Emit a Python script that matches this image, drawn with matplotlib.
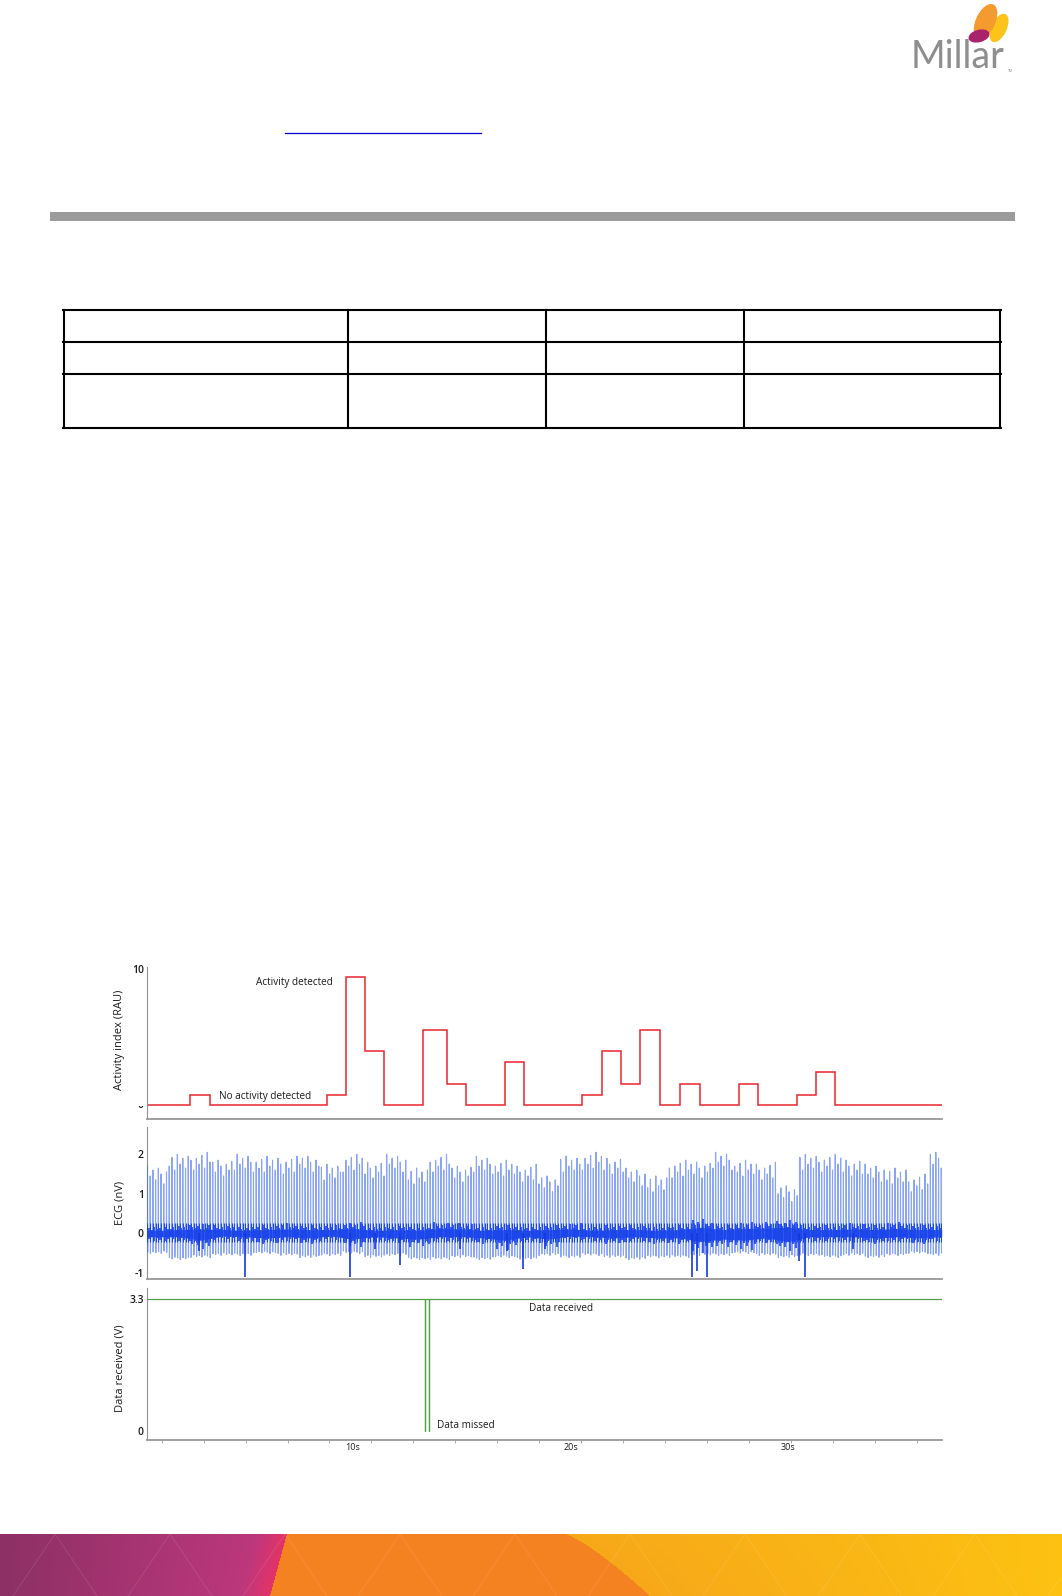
import numpy as np
import matplotlib
matplotlib.use("Agg")
import matplotlib.pyplot as plt
from matplotlib.patches import Ellipse
from matplotlib.transforms import Bbox, blended_transform_factory

plt.rcParams['font.family'] = ['Open Sans', 'DejaVu Sans']

# ---- data ----
# activity index (RAU): step levels between block edges (s)
act_edges = [0.5, 2.51, 3.43, 8.79, 9.66, 10.55, 11.44, 13.23, 14.31, 15.20, 16.99, 17.88,
             20.54, 21.43, 22.32, 23.21, 24.10, 25.02, 25.97, 27.73, 28.62, 30.40, 31.29,
             32.17, 37.07]
act_levels = [0, 0.75, 0, 0.75, 9.45, 4.0, 0, 5.55, 1.55, 0, 3.15, 0,
              0.75, 4.0, 1.55, 5.55, 0, 1.55, 0, 1.55, 0, 0.75, 2.4, 0]

# ECG (nV): envelope per 1 s bin starting at 0.5 s
ecg_peak = [1.7, 2.0, 2.05, 1.9, 2.0, 1.95, 1.95, 2.0, 1.75, 2.0, 1.85, 2.0, 1.65, 2.0,
            1.75, 1.95, 1.85, 1.75, 1.5, 1.95, 2.05, 1.95, 1.65, 1.45, 1.85, 1.85, 2.05,
            1.85, 1.8, 1.25, 2.0, 2.0, 1.9, 1.75, 1.65, 1.5, 2.1]
ecg_trough = [-0.45, -0.6, -0.55, -0.5, -0.5, -0.45, -0.5, -0.55, -0.5, -0.45, -0.55, -0.5,
              -0.6, -0.6, -0.55, -0.6, -0.55, -0.6, -0.5, -0.55, -0.5, -0.55, -0.6, -0.55,
              -0.55, -0.5, -0.5, -0.45, -0.5, -0.55, -0.5, -0.55, -0.5, -0.55, -0.5, -0.45, -0.5]
band_hi = [0.12, 0.15, 0.18, 0.15, 0.12, 0.15, 0.18, 0.15, 0.15, 0.2, 0.12, 0.15, 0.12, 0.2,
           0.18, 0.12, 0.15, 0.12, 0.15, 0.18, 0.12, 0.15, 0.15, 0.12, 0.15, 0.25, 0.15, 0.2,
           0.22, 0.25, 0.15, 0.15, 0.18, 0.15, 0.2, 0.15, 0.15]
band_lo = [-0.15, -0.15, -0.3, -0.12, -0.15, -0.2, -0.15, -0.2, -0.12, -0.25, -0.15, -0.2,
           -0.25, -0.15, -0.15, -0.2, -0.3, -0.15, -0.25, -0.12, -0.15, -0.2, -0.15, -0.2,
           -0.2, -0.35, -0.25, -0.3, -0.2, -0.35, -0.15, -0.15, -0.15, -0.2, -0.15, -0.2, -0.15]
beat_var = [0, -0.25, -0.1, -0.35, -0.05, -0.2, -0.45, -0.15, -0.3, -0.08, -0.4]
band_var = [1.0, 0.6, 1.3, 0.8, 1.1, 0.5, 1.4, 0.9, 0.7]
ecg_rr = 0.125
art_t = [2.9, 5.03, 9.86, 11.0, 12.16, 14.9, 17.06, 17.8, 18.83, 25.57, 25.8, 26.3, 30.5, 30.8, 33.0]
art_d = [-0.45, -1.1, -1.1, -0.4, -0.8, -0.4, -0.45, -0.9, -0.4, -1.1, -0.95, -1.1, -0.7, -1.1, -0.4]

# data received (V)
rx_edges = [0.5, 13.31, 13.33, 13.49, 13.51, 37.07]
rx_levels = [3.3, 0, 3.3, 0, 3.3]

t_ticks = [10, 20, 30]
t_labels = ['10s', '20s', '30s']

W, H = 1062, 1596
fig = plt.figure(figsize=(W / 100, H / 100), dpi=100)

# page decoration in pixel coordinates
bg = fig.add_axes([0, 0, 1, 1])
bg.set_xlim(0, W)
bg.set_ylim(H, 0)
bg.axis('off')

# logo
bg.add_patch(Ellipse((999, 28), 14, 29, angle=24.8, color='#fcc419'))
bg.add_patch(Ellipse((985.5, 21.5), 18, 36, angle=24.6, color='#f49a2e'))
bg.add_patch(Ellipse((979, 36), 20, 11, angle=-15, color='#a9226c'))
bg.text(911, 68, 'Millar', fontsize=27, color='#8e8e8e', fontweight='normal',
        family=['Lato', 'DejaVu Sans'], va='baseline', ha='left')
bg.text(1008, 72, 'TM', fontsize=2.5, color='#8c8c8c', va='baseline')

# link underline and header bar
bg.plot([285, 481], [133, 133], color='#0000cc', lw=0.9)
bg.fill_between([50, 1015], 212, 221, color='#9b9b9b', lw=0)

# empty table grid
tl, tr = 64, 1000
rows = [309.5, 342, 373.7, 427.6]
cols = [64, 348.2, 545.8, 744.3, 1000]
for r in rows:
    bg.plot([tl - 1, tr + 1], [r, r], color='black', lw=1.5)
for c in cols:
    bg.plot([c, c], [rows[0], rows[-1]], color='black', lw=1.5)

# bottom banner
bh = 62
yy, xx = np.mgrid[0:bh, 0:W] + 0.5
f = yy / bh
b1 = 287 - 17 * f
b2 = 565 + 85 * f ** 0.8
mag_l = np.array([0.55, 0.19, 0.40])
mag_r = np.array([0.76, 0.22, 0.50])
fr = np.clip(xx / b1, 0, 1)[..., None]
mag = mag_l * (1 - fr) + mag_r * fr
edge = np.clip((xx - (b1 - 30)) / 30, 0, 1)[..., None]
mag = mag * (1 - edge) + np.array([0.89, 0.20, 0.40]) * edge
org = np.array([0.96, 0.51, 0.13])
fy = np.clip((xx - b2) / (W - b2), 0, 1)[..., None]
yel = np.array([0.97, 0.66, 0.10]) * (1 - fy) + np.array([0.99, 0.76, 0.07]) * fy
m1 = (xx < b1)[..., None]
m2 = (xx >= b2)[..., None]
img = np.where(m1, mag, np.where(m2, yel, org))
bg.imshow(img, extent=(0, W, 1596, 1534), origin='upper', aspect='auto', zorder=1)
for x0 in range(-60, 1160, 115):
    bg.plot([x0, x0 + 42], [1534, 1596], color='white', alpha=0.09, lw=0.8, zorder=2)
    bg.plot([x0, x0 - 42], [1534, 1596], color='white', alpha=0.09, lw=0.8, zorder=2)
bg.set_xlim(0, W)
bg.set_ylim(H, 0)

# ---- chart panels ----
left, width = 146.7 / W, 795 / W
ax1 = fig.add_axes([left, 1 - 1119 / H, width, 152.3 / H])
ax2 = fig.add_axes([left, 1 - 1279 / H, width, 152 / H])
ax3 = fig.add_axes([left, 1 - 1440 / H, width, 151.7 / H])
xlim = (0.515, 37.07)
lab_kw = dict(fontsize=8, color='#1a1a1a')
ann_kw = dict(fontsize=7.2, va='center', color='#1a1a1a')

for ax in (ax1, ax2, ax3):
    ax.set_xlim(*xlim)
    for s in ('top', 'right'):
        ax.spines[s].set_visible(False)
    ax.spines['left'].set_color('#909090')
    ax.spines['left'].set_linewidth(0.8)
    ax.spines['bottom'].set_color('#999999')
    ax.spines['bottom'].set_linewidth(1.3)
    ax.tick_params(axis='y', length=0, pad=2, labelsize=7.5, labelcolor='#1a1a1a')
    ax.patch.set_alpha(0)

# activity
ax1.stairs(act_levels, act_edges, color='#e8262d', lw=1.1, baseline=None)
ax1.set_ylim(-1.03, 10.19)
ax1.set_yticks([10])
ax1.set_yticklabels(['10'], fontweight='semibold')
ax1.set_xticks([])
ax1.set_ylabel('Activity index (RAU)', **lab_kw)
ax1.yaxis.set_label_coords(-0.027, 0.52)
z = ax1.text(-0.004, 0, '0', transform=blended_transform_factory(ax1.transAxes, ax1.transData),
             ha='right', va='center', fontsize=7.5, color='#1a1a1a', fontweight='semibold')
z.set_clip_box(Bbox.from_extents(0, H - 1119, W, H - 1106))
z.set_clip_on(True)
ax1.text(5.55, 9.04, 'Activity detected', **ann_kw)
ax1.text(3.84, 0.61, 'No activity detected', **ann_kw)

# ECG
nb = len(ecg_peak)
edges_c = np.concatenate([[xlim[0]], 0.5 + np.arange(nb) + 0.5, [xlim[1]]])
lo_c = [band_lo[0]] + band_lo + [band_lo[-1]]
hi_c = [band_hi[0]] + band_hi + [band_hi[-1]]
ax2.fill_between(edges_c, np.array(lo_c) * 0.6, np.array(hi_c) * 0.6, color='#1c46ea', lw=0, zorder=2)
ex, ey = [], []
nx, nlo, nhi = [], [], []
tb = 0.55
k = 0
while tb < xlim[1]:
    i = min(int(tb - 0.5), nb - 1)
    pk = ecg_peak[i] + beat_var[k % len(beat_var)]
    tr_ = ecg_trough[i] + 0.15 * beat_var[(k + 5) % len(beat_var)]
    ex += [tb - 0.006, tb, tb + 0.01, tb + 0.025]
    ey += [0, pk, tr_, 0]
    s = band_var[k % len(band_var)]
    nx.append(tb + ecg_rr / 2)
    nlo.append(band_lo[i] * s)
    nhi.append(band_hi[i] * s)
    tb += ecg_rr
    k += 1
ax2.plot(ex, ey, color='#3a68f2', lw=0.8, alpha=0.6, zorder=3)
ax2.vlines(np.array(ex[1::4]), -0.22, 0.25, color='#1c46ea', lw=0.8, zorder=3)
ax2.vlines(nx, nlo, nhi, color='#1c46ea', lw=1.2, zorder=3)
ax2.vlines(art_t, 0, art_d, color='#1638dc', lw=1.2, zorder=4)
ax2.set_ylim(-1.16, 2.69)
ax2.set_yticks([-1, 0, 1, 2])
ax2.set_yticklabels(['-1', '0', '1', '2'], fontweight='semibold')
ax2.set_xticks([])
ax2.set_ylabel('ECG (nV)', **lab_kw)
ax2.yaxis.set_label_coords(-0.027, 0.503)

# data received
ax3.stairs(rx_levels, rx_edges, color='#55a04a', lw=0.9, baseline=None)
ax3.set_ylim(-0.234, 3.576)
ax3.set_yticks([0, 3.3])
ax3.set_yticklabels(['0', '3.3'], fontweight='semibold')
ax3.set_ylabel('Data received (V)', **lab_kw)
ax3.yaxis.set_label_coords(-0.027, 0.475)
ax3.text(18.09, 3.06, 'Data received', **ann_kw)
ax3.text(13.85, 0.13, 'Data missed', **ann_kw)
ax3.set_xticks(t_ticks)
ax3.set_xticklabels(t_labels)
ax3.set_xticks(np.arange(1.2, 37, 1.93), minor=True)
ax3.tick_params(axis='x', which='major', length=0, pad=2, labelsize=6.5, labelcolor='#1a1a1a')
ax3.tick_params(axis='x', which='minor', length=2, width=0.6, color='#999999')

fig.savefig('out.png', dpi=100)
